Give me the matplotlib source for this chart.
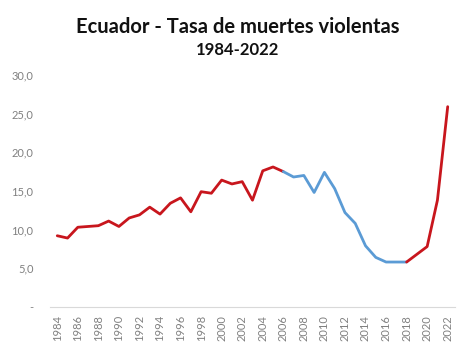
import matplotlib
matplotlib.use('Agg')
import numpy as np
import matplotlib.pyplot as plt

#--- data ---#
years = np.arange(1984, 2023)
rate = [9.2, 8.9, 10.3, 10.4, 10.5, 11.1, 10.4, 11.5, 11.9, 12.9,
        12.0, 13.4, 14.1, 12.3, 14.9, 14.7, 16.4, 15.9, 16.2, 13.8,
        17.6, 18.1, 17.5, 16.8, 17.0, 14.8, 17.4, 15.3, 12.2, 10.8,
        7.9, 6.4, 5.8, 5.8, 5.8, 6.8, 7.8, 13.8, 25.9]
blue_from = 2006   #blue segment start
blue_to = 2018     #blue segment end
red = '#C8161D'
blue = '#5B9BD5'

plt.rcParams['font.family'] = ['Lato', 'DejaVu Sans']

fig = plt.figure(figsize=(4.68, 3.64), dpi=100)
ax = fig.add_axes([0.107, 0.157, 0.865, 0.637])

yrs = list(years)
i0 = yrs.index(blue_from)
i1 = yrs.index(blue_to)
ax.plot(years[:i0+1], rate[:i0+1], color=red, lw=2.0, solid_capstyle='round')
ax.plot(years[i0:i1+1], rate[i0:i1+1], color=blue, lw=2.0, solid_capstyle='round')
ax.plot(years[i1:], rate[i1:], color=red, lw=2.0, solid_capstyle='round')

ax.set_ylim(0, 30)
ax.set_xlim(1983.3, 2022.7)
yt = [0, 5, 10, 15, 20, 25, 30]
ax.set_yticks(yt)
ax.set_yticklabels(['-'] + [('%.1f' % v).replace('.', ',') for v in yt[1:]])
ax.set_xticks(years[::2])
ax.set_xticklabels([str(y) for y in years[::2]], rotation=90)
ax.tick_params(axis='both', length=0, labelsize=8, labelcolor='#808080', pad=6)
ax.tick_params(axis='y', pad=12)

for s in ['top', 'right', 'left']:
    ax.spines[s].set_visible(False)
ax.spines['bottom'].set_color('#d9d9d9')
ax.spines['bottom'].set_linewidth(0.8)

fig.text(0.508, 0.926, 'Ecuador - Tasa de muertes violentas', ha='center', va='center',
         fontsize=14.5, fontweight='bold', color='#111111')
fig.text(0.508, 0.862, '1984-2022', ha='center', va='center',
         fontsize=12, fontweight='bold', color='#111111')

fig.savefig('out.png', dpi=100)
